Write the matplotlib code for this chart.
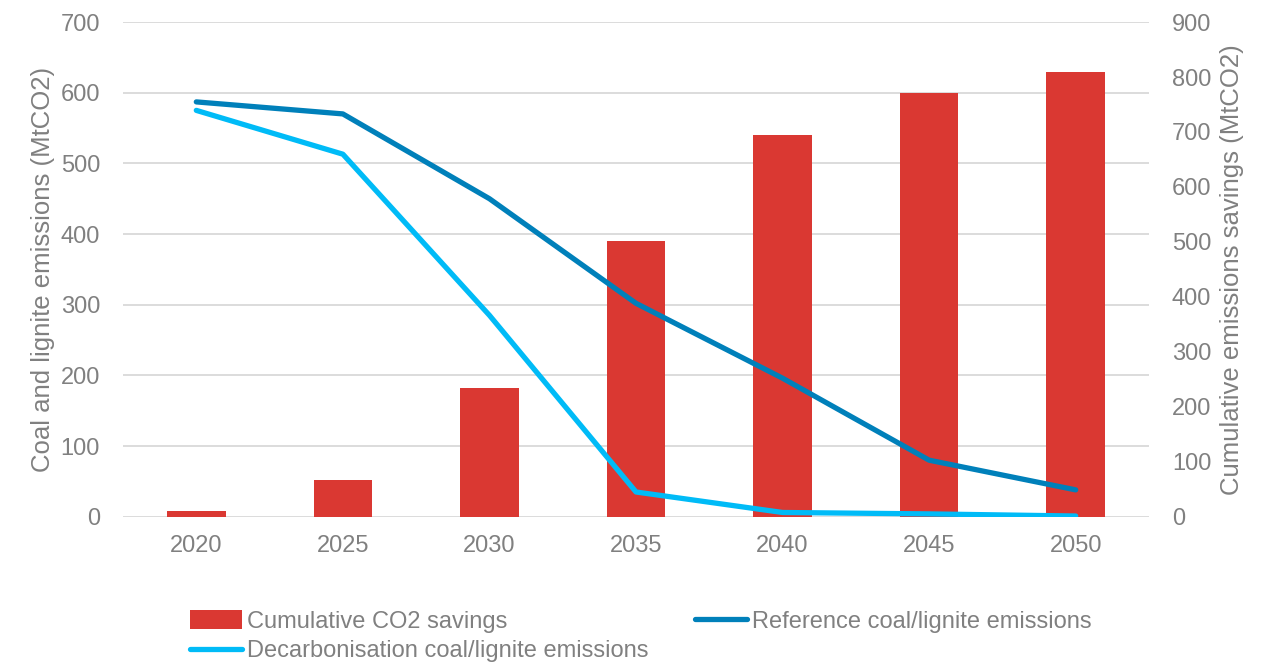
import matplotlib
matplotlib.use("Agg")
from matplotlib import pyplot as plt
import numpy as np

plt.rcParams['font.family'] = ['Liberation Sans', 'DejaVu Sans']

###################      data         #######################
years = ['2020', '2025', '2030', '2035', '2040', '2045', '2050']
savings = [11, 67, 235, 502, 694, 771, 809]          # right axis
reference = [587, 570, 450, 302, 196, 80, 38]        # left axis
decarb = [575, 513, 285, 35, 6, 4, 1]                # left axis

grey = '#808080'
red = '#DA3832'
dark_blue = '#0080BA'
light_blue = '#00BBF7'

###################      figure         #######################
fig = plt.figure(figsize=(12.71, 6.64), dpi=100)
ax = fig.add_axes([0.0968, 0.2218, 0.8072, 0.745])
ax2 = ax.twinx()

x = np.arange(len(years))

# bars on right scale
bars = ax2.bar(x, savings, width=0.40, color=red, zorder=1,
               label='Cumulative CO2 savings')
# lines on left scale, drawn in ax2 layer so they sit above the bars
l1, = ax2.plot(x, reference, color=dark_blue, lw=3.8, transform=ax.transData,
               solid_capstyle='round', zorder=3,
               label='Reference coal/lignite emissions')
l2, = ax2.plot(x, decarb, color=light_blue, lw=3.8, transform=ax.transData,
               solid_capstyle='round', zorder=3,
               label='Decarbonisation coal/lignite emissions')

ax.set_xlim(-0.5, len(years) - 0.5)
ax.set_ylim(0, 700)
ax2.set_ylim(0, 900)
ax.set_yticks(np.arange(0, 701, 100))
ax2.set_yticks(np.arange(0, 901, 100))
ax.set_xticks(x)
ax.set_xticklabels(years)

ax.grid(axis='y', color='#D9D9D9', lw=1.3)
ax.set_axisbelow(True)

for a in (ax, ax2):
    for s in a.spines.values():
        s.set_visible(False)
    a.tick_params(length=0, colors=grey, labelsize=17)
ax.tick_params(axis='y', pad=16.5)
ax2.tick_params(axis='y', pad=16.5)
ax.tick_params(axis='x', pad=13)

ax.set_ylabel('Coal and lignite emissions (MtCO2)', color=grey, fontsize=18.5, labelpad=4)
ax2.set_ylabel('Cumulative emissions savings (MtCO2)', color=grey, fontsize=18.5, labelpad=6)

###################      legend         #######################
leg = fig.legend([bars, l2, l1],
                 ['Cumulative CO2 savings', 'Decarbonisation coal/lignite emissions',
                  'Reference coal/lignite emissions'],
                 ncol=2, loc='upper left', bbox_to_anchor=(0.1495, 0.081),
                 frameon=False, fontsize=17, handlelength=2.2, handleheight=0.85,
                 handletextpad=0.2, columnspacing=2.0, labelspacing=0.3,
                 borderaxespad=0, borderpad=0)
for t in leg.get_texts():
    t.set_color(grey)

fig.savefig('out.png', dpi=100)
